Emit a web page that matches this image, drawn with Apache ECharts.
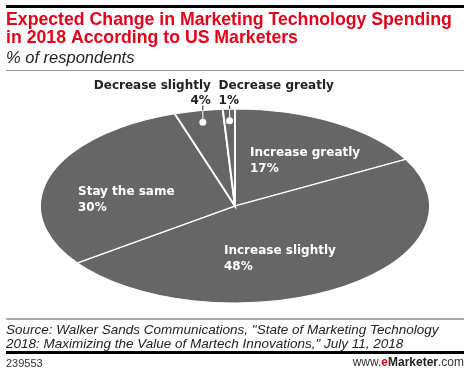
<!DOCTYPE html>
<html>
<head>
<meta charset="utf-8">
<script src="https://cdn.jsdelivr.net/npm/echarts@6.0.0/dist/echarts.min.js"></script>
<style>
html, body { margin: 0; padding: 0; background: #fff; }
#chart { width: 470px; height: 375px; }
</style>
</head>
<body>
<div id="chart"></div>
<script>
// answers, clockwise from 12 o'clock
var categories = ['Increase greatly', 'Increase slightly', 'Stay the same', 'Decrease slightly', 'Decrease greatly'];
var shares = [17, 48, 30, 4, 1];
var pctLabels = ['17%', '48%', '30%', '4%', '1%'];

var chart = echarts.init(document.getElementById('chart'));

// the pie is drawn squashed (tilted look)
var cx = 235, cy = 206, rx = 195, ry = 97;
var total = shares.reduce(function (a, b) { return a + b; }, 0);

// label placement per slice (inside ones by offset from centre, small ones get a pin)
var labelCfg = [
    {inside: true, dx: 15, dy: -45},
    {inside: true, dx: -11, dy: 53},
    {inside: true, dx: -157, dy: -6},
    {inside: false, dx: 8, align: 'right'},
    {inside: false, dx: -11, align: 'left'}
];

var labelFont = 'bold 12px "DejaVu Sans", Verdana, sans-serif';

function renderSlice(params, api) {
    var i = params.dataIndex;
    var before = 0;
    for (var k = 0; k < i; k++) before += shares[k];
    var v = api.value(0);
    var a0 = -Math.PI / 2 + before / total * Math.PI * 2;
    var a1 = a0 + v / total * Math.PI * 2;
    var mid = (a0 + a1) / 2;
    var cfg = labelCfg[i];

    var children = [{
        type: 'sector',
        x: cx, y: cy,
        scaleY: ry / rx,
        shape: {cx: 0, cy: 0, r0: 0, r: rx, startAngle: a0, endAngle: a1, clockwise: true},
        style: {fill: '#666666', stroke: '#ffffff', lineWidth: 2, strokeNoScale: true}
    }];

    if (cfg.inside) {
        children.push({
            type: 'text',
            style: {
                text: categories[i] + '\n' + pctLabels[i],
                x: cx + cfg.dx, y: cy + cfg.dy,
                fill: '#ffffff', font: labelFont, lineHeight: 16,
                align: 'left', verticalAlign: 'middle'
            }
        });
    } else {
        var px = cx + Math.cos(mid) * rx * 0.88;
        var py = cy + Math.sin(mid) * ry * 0.88;
        var t = (px - cx) / rx;
        var edgeY = cy - ry * Math.sqrt(1 - t * t);
        var textBottom = 108.5;
        children.push({
            type: 'line',
            shape: {x1: px, y1: textBottom - 3, x2: px, y2: edgeY},
            style: {stroke: '#222222', lineWidth: 1}
        });
        children.push({
            type: 'line',
            shape: {x1: px, y1: edgeY, x2: px, y2: py},
            style: {stroke: '#ffffff', lineWidth: 1}
        });
        children.push({
            type: 'circle',
            shape: {cx: px, cy: py, r: 3.5},
            style: {fill: '#ffffff'}
        });
        children.push({
            type: 'text',
            style: {
                text: categories[i] + '\n' + pctLabels[i],
                x: px + cfg.dx, y: textBottom,
                fill: '#222222', font: labelFont, lineHeight: 15,
                align: cfg.align, verticalAlign: 'bottom'
            }
        });
    }
    return {type: 'group', children: children};
}

var option = {
    animation: false,
    graphic: [
        {type: 'rect', shape: {x: 6, y: 5, width: 458, height: 3}, style: {fill: '#000'}},
        {
            type: 'text', left: 6, top: 11,
            style: {
                text: 'Expected Change in Marketing Technology Spending\nin 2018 According to US Marketers',
                font: 'bold 17.7px "Liberation Sans", Arial, sans-serif',
                lineHeight: 18, fill: '#e2001a'
            }
        },
        {
            type: 'text', left: 6, top: 50,
            style: {
                text: '% of respondents',
                font: 'italic 16.5px "Liberation Sans", Arial, sans-serif',
                fill: '#222'
            }
        },
        {type: 'rect', shape: {x: 6, y: 70, width: 458, height: 1}, style: {fill: '#999'}},
        {type: 'rect', shape: {x: 6, y: 318, width: 458, height: 2}, style: {fill: '#aaa'}},
        {
            type: 'text', left: 6, top: 323,
            style: {
                text: 'Source: Walker Sands Communications, "State of Marketing Technology\n2018: Maximizing the Value of Martech Innovations," July 11, 2018',
                font: 'italic 13.5px "Liberation Sans", Arial, sans-serif',
                lineHeight: 14, fill: '#222'
            }
        },
        {type: 'rect', shape: {x: 6, y: 351, width: 458, height: 3}, style: {fill: '#000'}},
        {
            type: 'text', left: 6, top: 358,
            style: {text: '239553', font: '11px "Liberation Sans", Arial, sans-serif', fill: '#333'}
        },
        {
            type: 'text', right: 6, top: 357,
            style: {
                text: '{n|www.}{e|e}{m|Marketer}{n|.com}',
                rich: {
                    n: {font: '12px "Liberation Sans", Arial, sans-serif', fill: '#333'},
                    e: {font: 'bold 12px "Liberation Sans", Arial, sans-serif', fill: '#e2001a'},
                    m: {font: 'bold 12px "Liberation Sans", Arial, sans-serif', fill: '#222'}
                }
            }
        }
    ],
    series: [{
        type: 'custom',
        coordinateSystem: 'none',
        renderItem: renderSlice,
        data: shares.map(function (v, i) { return {name: categories[i], value: [v]}; })
    }]
};
chart.setOption(option);
</script>
</body>
</html>
